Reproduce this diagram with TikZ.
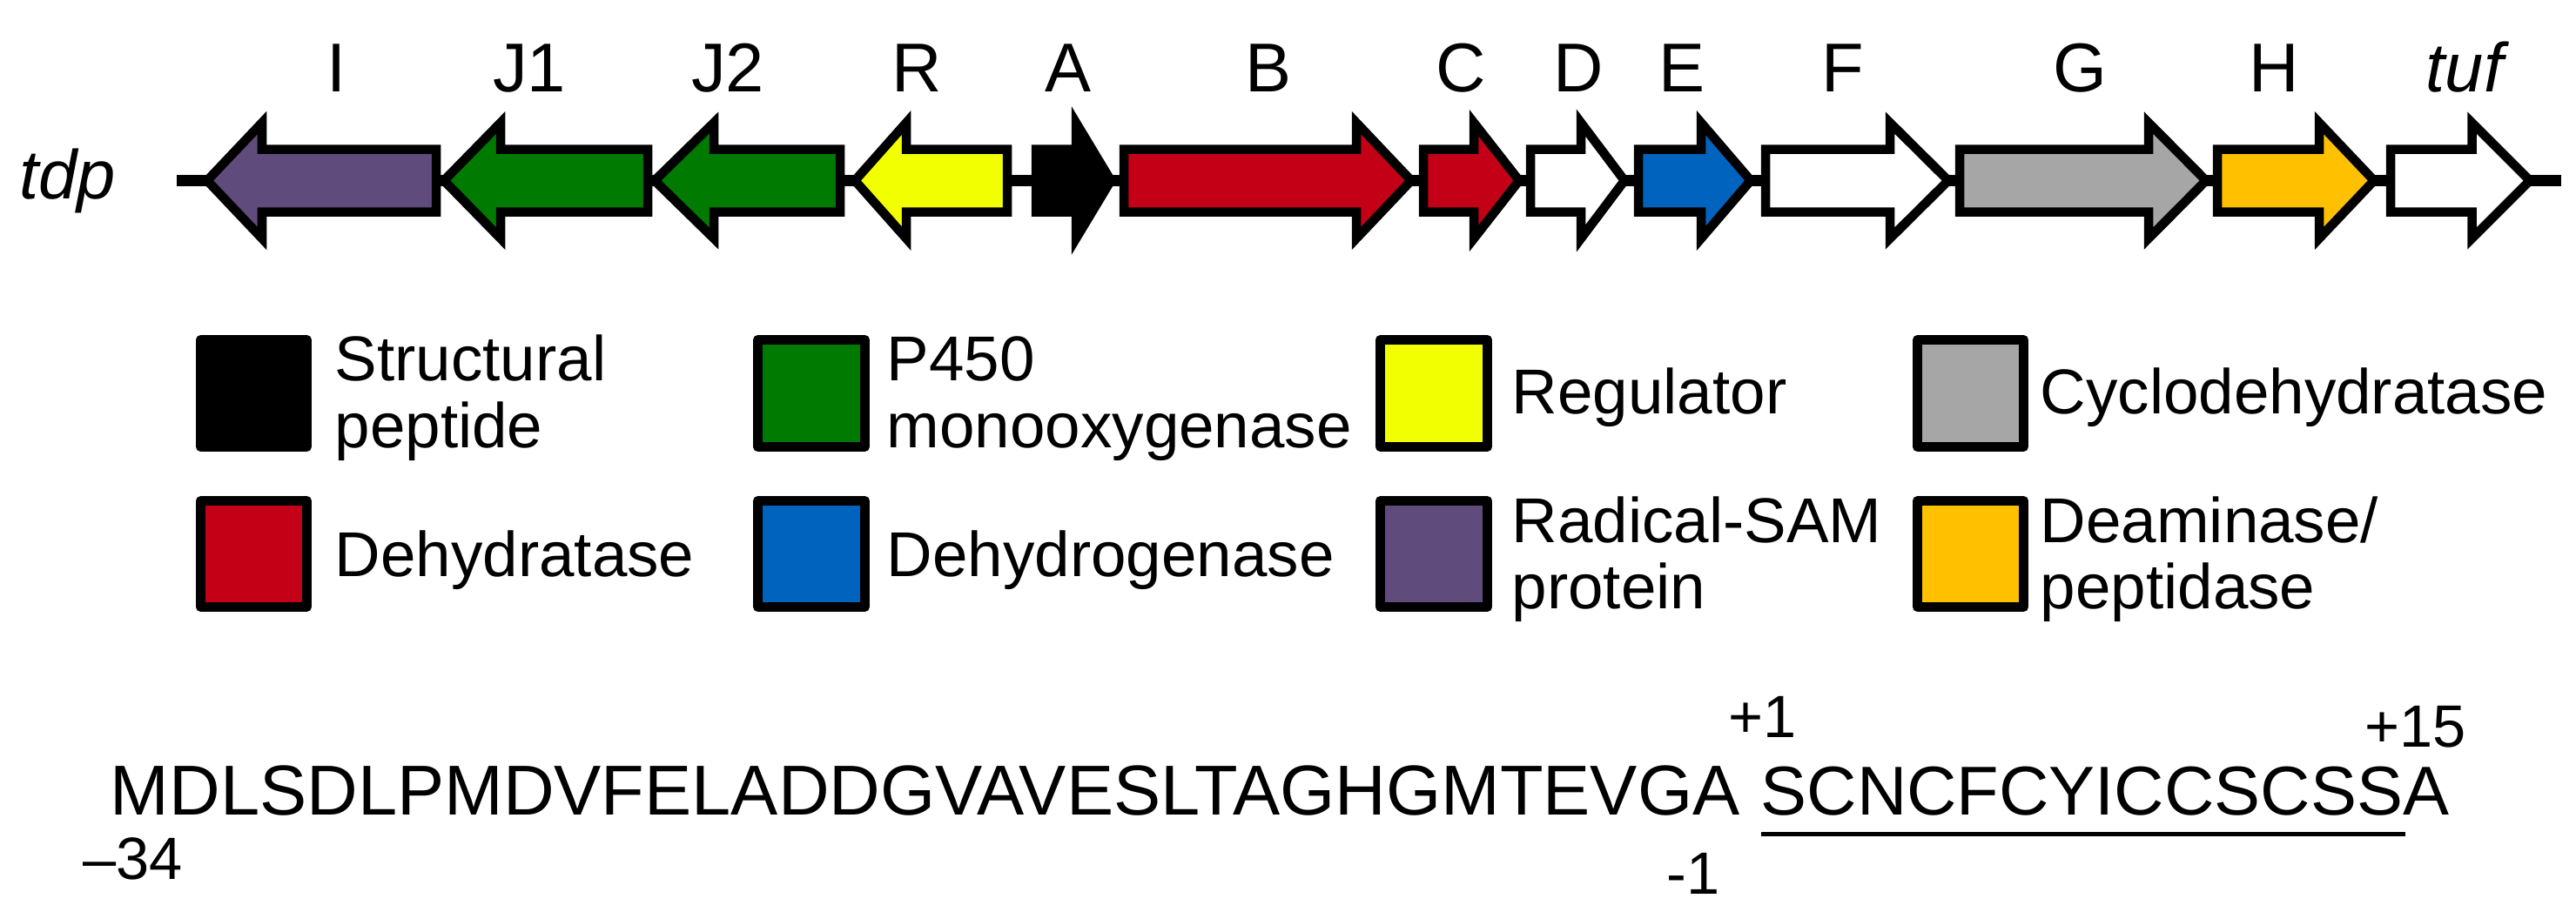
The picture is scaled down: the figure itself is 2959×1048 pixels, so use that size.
\documentclass[tikz,border=0pt]{standalone}
\usepackage{fontspec}
\setmainfont{Liberation Sans}
\definecolor{purpleG}{RGB}{96,76,124}
\definecolor{greenG}{RGB}{0,122,0}
\definecolor{yellowG}{RGB}{242,255,0}
\definecolor{redG}{RGB}{196,0,22}
\definecolor{blueG}{RGB}{0,99,189}
\definecolor{grayG}{RGB}{166,166,166}
\definecolor{orangeG}{RGB}{255,192,0}
% right-pointing gene: fill, left end, head base, tip
\newcommand\geneR[4]{\draw[gene,fill=#1] (#2,171.5) -- (#3,171.5) -- (#3,141) -- (#4,207.5) -- (#3,274) -- (#3,243.5) -- (#2,243.5) -- cycle;}
% left-pointing gene: fill, tip, head base, right end
\newcommand\geneL[4]{\draw[gene,fill=#1] (#2,207.5) -- (#3,141) -- (#3,171.5) -- (#4,171.5) -- (#4,243.5) -- (#3,243.5) -- (#3,274) -- cycle;}
\begin{document}
\begin{tikzpicture}[x=0.01cm,y=-0.01cm,
  gene/.style={draw=black,line width=0.105cm,line join=miter},
  legbox/.style={draw=black,line width=0.11cm,line join=round},
  lbl/.style={inner sep=0pt,anchor=base,font=\fontsize{22.6pt}{27pt}\selectfont},
  legtxt/.style={inner sep=0pt,anchor=base west,font=\fontsize{20.7pt}{24pt}\selectfont},
  seqtxt/.style={inner sep=0pt,anchor=base west,font=\fontsize{22.6pt}{27pt}\selectfont},
  num/.style={inner sep=0pt,anchor=base west,font=\fontsize{19.5pt}{23pt}\selectfont}]
\useasboundingbox[fill=white] (0,0) rectangle (2959,1048);

% backbone
\coordinate (bbL) at (203,207.5);
\coordinate (bbR) at (2942,207.5);
\draw[line width=0.13cm] (bbL) -- (bbR);

% genes
\geneL{purpleG}{238}{301}{501}
\geneL{greenG}{510}{575}{744}
\geneL{greenG}{752}{820}{965}
\geneL{yellowG}{982}{1041}{1157}
\geneR{black}{1190}{1236}{1276}
\geneR{redG}{1291}{1558}{1621}
\geneR{redG}{1635}{1693}{1745}
\geneR{white}{1758}{1816}{1866}
\geneR{blueG}{1882}{1954}{2011}
\geneR{white}{2028}{2171}{2238}
\geneR{grayG}{2251}{2468}{2534}
\geneR{orangeG}{2547}{2664}{2727}
\geneR{white}{2746}{2839.5}{2906}

% gene labels
\node[lbl] (lI) at (387,105) {I};
\node[lbl] (lJ1) at (608,105) {J1};
\node[lbl] (lJ2) at (836,105) {J2};
\node[lbl] (lR) at (1053,105) {R};
\node[lbl] (lA) at (1227,105) {A};
\node[lbl] (lB) at (1457,105) {B};
\node[lbl] (lC) at (1678,105) {C};
\node[lbl] (lD) at (1813,105) {D};
\node[lbl] (lE) at (1932,105) {E};
\node[lbl] (lF) at (2117,105) {F};
\node[lbl] (lG) at (2389,105) {G};
\node[lbl] (lH) at (2612,105) {H};
\node[lbl] (ltuf) at (2831,105) {\itshape tuf};
\node[lbl,anchor=base west] (ltdp) at (22,228) {\itshape tdp};

% legend boxes
\draw[legbox,fill=black] (230.5,390.5) rectangle (352.5,513.5);
\draw[legbox,fill=greenG] (870.5,390.5) rectangle (993.5,513.5);
\draw[legbox,fill=yellowG] (1585.5,390.5) rectangle (1708.5,513.5);
\draw[legbox,fill=grayG] (2202.5,390.5) rectangle (2324.5,513.5);
\draw[legbox,fill=redG] (230.5,575.5) rectangle (352.5,697.5);
\draw[legbox,fill=blueG] (870.5,575.5) rectangle (993.5,697.5);
\draw[legbox,fill=purpleG] (1585.5,575.5) rectangle (1708.5,697.5);
\draw[legbox,fill=orangeG] (2202.5,575.5) rectangle (2324.5,697.5);

% legend texts
\node[legtxt] (t1a) at (384,437) {Structural};
\node[legtxt] (t1b) at (384,514) {peptide};
\node[legtxt] (t2a) at (1018,437) {P450};
\node[legtxt] (t2b) at (1018,514) {monooxygenase};
\node[legtxt] (t3) at (1736,475) {Regulator};
\node[legtxt] (t4) at (2343,475) {Cyclodehydratase};
\node[legtxt] (t5) at (384,662) {Dehydratase};
\node[legtxt] (t6) at (1018,662) {Dehydrogenase};
\node[legtxt] (t7a) at (1736,623) {Radical-SAM};
\node[legtxt] (t7b) at (1736,699) {protein};
\node[legtxt] (t8a) at (2343,623) {Deaminase/};
\node[legtxt] (t8b) at (2343,699) {peptidase};

% sequence
\node[seqtxt,font=\fontsize{23.1pt}{27pt}\selectfont] (seq1) at (126,936) {MDLSDLPMDVFELADDGVAVESLTAGHGMTEVGA};
\node[seqtxt] (seq2) at (2022,936) {SCNCFCYICCSCSSA};
\coordinate (ulL) at (2023,958.5);
\coordinate (ulR) at (2763,958.5);
\draw[line width=0.053cm] (ulL) -- (ulR);
\node[num] (n34) at (95,1010) {–34};
\node[num] (np1) at (1985,847) {+1};
\node[num] (np15) at (2716,858) {+15};
\node[num] (nm1) at (1914,1027) {-1};
\end{tikzpicture}
\end{document}
